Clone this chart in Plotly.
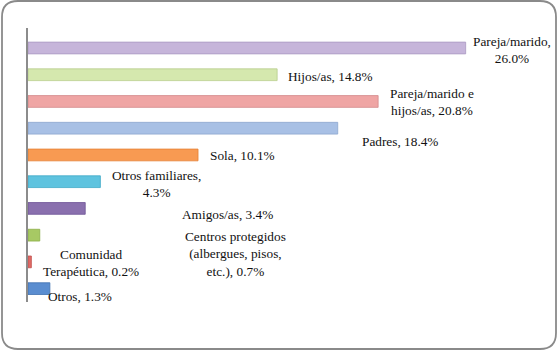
import plotly.graph_objects as go

categories = ["Pareja/marido", "Hijos/as", "Pareja/marido e hijos/as", "Padres", "Sola",
              "Otros familiares", "Amigos/as", "Centros protegidos (albergues, pisos, etc.)",
              "Comunidad Terapéutica", "Otros"]
values = [26.0, 14.8, 20.8, 18.4, 10.1, 4.3, 3.4, 0.7, 0.2, 1.3]
label_texts = ["Pareja/marido,<br>26.0%", "Hijos/as, 14.8%", "Pareja/marido e<br>hijos/as, 20.8%",
               "Padres, 18.4%", "Sola, 10.1%", "Otros familiares,<br>4.3%", "Amigos/as, 3.4%",
               "Centros protegidos<br>(albergues, pisos,<br>etc.), 0.7%", "Comunidad<br>Terapéutica, 0.2%",
               "Otros, 1.3%"]

fill_colors = ["#c6b5da", "#d5e8ae", "#efa5a4", "#a8c0e5", "#f89a52",
               "#5ec3df", "#8a70ae", "#a7c964", "#e06a66", "#5a8dd0"]
line_colors = ["#a999c2", "#b8cd8c", "#d3898a", "#8ca6ce", "#e48034",
               "#40a9c7", "#6e5495", "#8bae48", "#c2524f", "#4071b0"]
# label offsets from bar end (pixels): (xshift, yshift)
label_offsets = [(46, -2), (53, -2), (54, -1), (62, -13), (44, -1),
                 (56, -2), (142, -6), (196, -19), (60, -1), (30, -8)]

W, H = 560, 351
ml, mr, mt, mb = 28, 27, 28, 49

fig = go.Figure()
fig.add_trace(go.Bar(
    x=values, y=categories, orientation="h", width=0.44,
    marker=dict(color=fill_colors, line=dict(color=line_colors, width=0.8)),
    hoverinfo="skip",
))

annotations = []
for cat, v, t, (dx, dy) in zip(categories, values, label_texts, label_offsets):
    annotations.append(dict(
        x=v, y=cat, xref="x", yref="y", text=t, showarrow=False,
        xanchor="center", yanchor="middle", align="center",
        xshift=dx, yshift=dy,
        font=dict(family="Liberation Serif", size=13.3, color="#111111"),
    ))

# rounded frame in paper coords
pw = W - ml - mr
ph = H - mt - mb
def px(x):
    return (x - ml) / pw
def py(y):
    return (H - mb - y) / ph
x0, x1, y0, y1, r = 2, 556, 1, 349, 16
path = (f"M {px(x0 + r)},{py(y0)} L {px(x1 - r)},{py(y0)} "
        f"Q {px(x1)},{py(y0)} {px(x1)},{py(y0 + r)} "
        f"L {px(x1)},{py(y1 - r)} Q {px(x1)},{py(y1)} {px(x1 - r)},{py(y1)} "
        f"L {px(x0 + r)},{py(y1)} Q {px(x0)},{py(y1)} {px(x0)},{py(y1 - r)} "
        f"L {px(x0)},{py(y0 + r)} Q {px(x0)},{py(y0)} {px(x0 + r)},{py(y0)} Z")

fig.update_layout(
    width=W, height=H,
    margin=dict(l=ml, r=mr, t=mt, b=mb),
    paper_bgcolor="white", plot_bgcolor="white",
    showlegend=False,
    hovermode=False,
    annotations=annotations,
    shapes=[dict(type="path", path=path, xref="paper", yref="paper",
                 line=dict(color="#8a8a8a", width=1.8), layer="below")],
    xaxis=dict(range=[0, 30], showgrid=False, zeroline=False, showticklabels=False,
               showline=False, ticks=""),
    yaxis=dict(autorange="reversed", showgrid=False, zeroline=False, showticklabels=False,
               showline=True, linecolor="#8c8c8c", linewidth=2, ticks=""),
)

fig.write_html("out.html", config={"displayModeBar": False},
               post_script="document.body.style.margin='0';document.body.style.overflow='hidden';")
